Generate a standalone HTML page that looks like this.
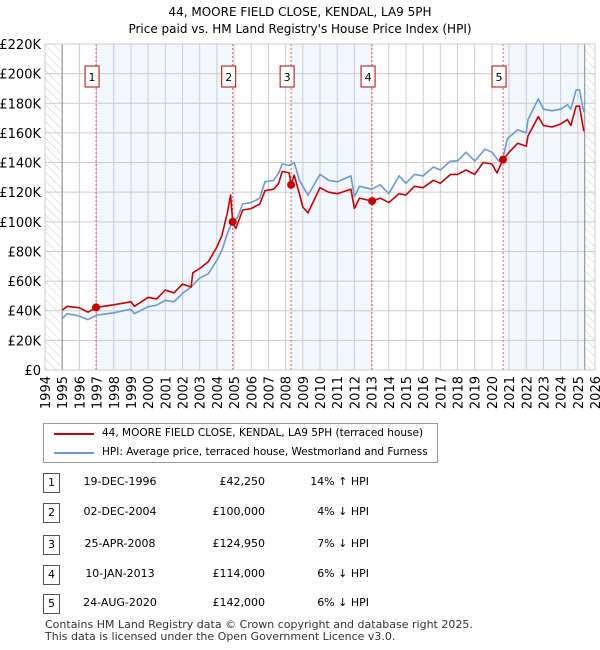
<!DOCTYPE html>
<html><head><meta charset="utf-8">
<style>
body{margin:0;background:#fff;font-family:"Liberation Sans","DejaVu Sans",sans-serif;}
#wrap{position:relative;width:600px;height:650px;overflow:hidden;}
svg text{font-family:"DejaVu Sans","Liberation Sans",sans-serif;}
.t{position:absolute;font-size:12px;color:#000;font-family:"DejaVu Sans",sans-serif;white-space:nowrap;}
</style></head>
<body><div id="wrap">
<svg id="chart" width="600" height="650">
<defs><pattern id="hatch" width="6" height="6" patternUnits="userSpaceOnUse" patternTransform="rotate(-45)"><line x1="0" y1="0" x2="0" y2="6" stroke="#ccc" stroke-width="1"/></pattern></defs>
<text x="300" y="16" text-anchor="middle" font-size="12">44, MOORE FIELD CLOSE, KENDAL, LA9 5PH</text>
<text x="300" y="33" text-anchor="middle" font-size="12">Price paid vs. HM Land Registry's House Price Index (HPI)</text>
<g id="plot"></g>
</svg>
<div style="position:absolute;left:43px;top:423px;width:393px;height:38px;border:1px solid #999;">
<div style="position:absolute;left:10px;top:9px;width:40px;height:2px;background:#cc0000"></div>
<div class="t" style="left:58px;top:3px;font-size:10.5px">44, MOORE FIELD CLOSE, KENDAL, LA9 5PH (terraced house)</div>
<div style="position:absolute;left:10px;top:28px;width:40px;height:2px;background:#6a9ad4"></div>
<div class="t" style="left:58px;top:22px;font-size:10.5px">HPI: Average price, terraced house, Westmorland and Furness</div>
</div>
<div id="table"></div>
<div class="t" style="left:45px;top:619px;font-size:11px;color:#333;line-height:12px">Contains HM Land Registry data © Crown copyright and database right 2025.<br>This data is licensed under the Open Government Licence v3.0.</div>
</div>
<script>
const hpiYears=[1995,1995.3,1996,1996.5,1997,1998,1999,1999.2,2000,2000.5,2001,2001.5,2002,2002.5,2003,2003.5,2004,2004.3,2004.6,2004.9,2005.2,2005.5,2006,2006.5,2006.8,2007.3,2007.6,2007.8,2008.2,2008.5,2008.8,2009,2009.3,2010,2010.5,2011,2011.8,2012,2012.3,2013,2013.5,2014,2014.6,2015,2015.5,2016,2016.6,2017,2017.6,2018,2018.5,2019,2019.6,2020,2020.4,2020.65,2020.9,2021.5,2022,2022.1,2022.7,2023,2023.5,2024,2024.4,2024.6,2024.9,2025.1,2025.35];
const hpiValues=[34.8,38,36.4,34,37,38.6,41,38,42.7,43.8,47,46,51.7,56,62,65,74,81,92,100,103,112,113,116,127,128,133,139,138,140,128,124,118,132,128,127,131,117,124,122,125,119,131,126,132,131,137,135,141,141,147,141,149,147,141,143,156,162,160,169,183,176,175,176,179,176,189,189,174];
const redYears=[1995,1995.3,1996,1996.5,1996.97,1998,1999,1999.2,2000,2000.5,2001,2001.5,2002,2002.5,2002.6,2003,2003.5,2004,2004.3,2004.6,2004.8,2004.92,2005.1,2005.5,2006,2006.5,2006.8,2007.3,2007.6,2007.8,2008.2,2008.32,2008.5,2008.8,2009,2009.3,2010,2010.5,2011,2011.8,2012,2012.3,2013.03,2013.5,2014,2014.6,2015,2015.5,2016,2016.6,2017,2017.6,2018,2018.5,2019,2019.5,2020,2020.3,2020.65,2021,2021.5,2022,2022.1,2022.7,2023,2023.5,2024,2024.4,2024.6,2024.9,2025.1,2025.35];
const redValues=[40.4,43,42,39,42.25,44,46,43,49,48,54,52,58,56,65.6,68.5,73,83,91,105.6,118,100,95.5,108,109,112,121,122,126,134,133,125,131.5,119,110,106,123,120,119,122,109,116,114,116,113,119,118,124,123,128,126,132,132,135,132,140,139,133,142,147,153,151,158,171,165,164,166,169,165,178,178,161];
const saleLabels=["1","2","3","4","5"];
const saleYears=[1996.97,2004.92,2008.32,2013.03,2020.65];
const saleValues=[42.25,100,124.95,114,142];
const saleDates=["19-DEC-1996","02-DEC-2004","25-APR-2008","10-JAN-2013","24-AUG-2020"];
const salePrices=["£42,250","£100,000","£124,950","£114,000","£142,000"];
const saleHpi=["14% ↑ HPI","4% ↓ HPI","7% ↓ HPI","6% ↓ HPI","6% ↓ HPI"];
const yTicks=[0,20,40,60,80,100,120,140,160,180,200,220];
const xTicks=[1994,1995,1996,1997,1998,1999,2000,2001,2002,2003,2004,2005,2006,2007,2008,2009,2010,2011,2012,2013,2014,2015,2016,2017,2018,2019,2020,2021,2022,2023,2024,2025,2026];
const L=45,R=595,T=44,B=370,X0=1994,X1=2026,YMAX=220,dataStart=1995,dataEnd=2025.4;
const sx=v=>L+(v-X0)/(X1-X0)*(R-L), sy=v=>B-v/YMAX*(B-T);
const NS="http://www.w3.org/2000/svg", g=document.getElementById('plot');
function mk(tag,a,parent){const e=document.createElementNS(NS,tag);for(const k in a)e.setAttribute(k,a[k]);(parent||g).appendChild(e);return e;}
let e;
e=mk('rect',{x:L,y:T,width:R-L,height:B-T,fill:'#fff'});


for(let i=0;i<saleYears.length;i+=2){
 const a=saleYears[i], b=i+1<saleYears.length?saleYears[i+1]:dataEnd;
 e=mk('rect',{x:sx(a),y:T,width:sx(b)-sx(a),height:B-T,fill:'#f2f6fd'});
 
 
}
e=mk('rect',{x:L,y:T,width:sx(dataStart)-L,height:B-T,fill:'url(#hatch)'});


e=mk('rect',{x:sx(dataEnd),y:T,width:R-sx(dataEnd),height:B-T,fill:'url(#hatch)'});


yTicks.forEach(v=>{
 e=mk('line',{x1:L,x2:R,y1:sy(v),y2:sy(v),stroke:'#ccc','stroke-width':1});
 
 
 e=mk('text',{x:L-4,y:sy(v)+5,'text-anchor':'end','font-size':13});
 e.textContent=v===0?'£0':'£'+v+'K';
 
 
});
xTicks.forEach(v=>{
 e=mk('line',{x1:sx(v),x2:sx(v),y1:T,y2:B,stroke:'#ccc','stroke-width':1});
 
 
 e=mk('text',{x:0,y:0,'text-anchor':'end','font-size':13,transform:`translate(${sx(v)+5},${B+6}) rotate(-90)`});
 e.textContent=v;
 
 
});
e=mk('line',{x1:sx(dataStart),x2:sx(dataStart),y1:T,y2:B,stroke:'#888'});


e=mk('line',{x1:sx(dataEnd),x2:sx(dataEnd),y1:T,y2:B,stroke:'#888'});


saleYears.forEach((y,i)=>{
 e=mk('line',{x1:sx(y),x2:sx(y),y1:T,y2:B,stroke:'#e06060','stroke-dasharray':'2,2'});
 
 
 e=mk('rect',{x:sx(y)-11,y:66,width:14,height:21,fill:'#fff',stroke:'#b00'});
 
 
 e=mk('text',{x:sx(y)-4,y:81,'text-anchor':'middle','font-size':11});
 e.textContent=saleLabels[i];
 
 
});
function line(xs,vs,color,name){
 const d=xs.map((x,i)=>(i?'L':'M')+sx(x).toFixed(1)+','+sy(vs[i]).toFixed(1)).join('');
 e=mk('path',{d:d,fill:'none',stroke:color,'stroke-width':1.6,'stroke-linejoin':'round'});
 
 
}
line(hpiYears,hpiValues,'#6a9ad4','hpi-line');
line(redYears,redValues,'#cc0000','price-paid-line');
saleYears.forEach((y,i)=>{
 e=mk('circle',{cx:sx(y),cy:sy(saleValues[i]),r:4,fill:'#cc0000'});
 
 
});
e=mk('rect',{x:L,y:T,width:R-L,height:B-T,fill:'none',stroke:'#ccc'});


const tb=document.getElementById('table');
const rowY=[483,513,545,575,604];
saleLabels.forEach((lab,i)=>{
 const top=rowY[i]-9;
 const r=document.createElement('div');
 
 
 r.innerHTML=`<div style="position:absolute;left:43px;top:${top-1}px;width:15px;height:18px;border:1px solid #555;font-size:11px;text-align:center;line-height:18px;font-family:'DejaVu Sans',sans-serif">${lab}</div>
<div class="t" style="left:80px;top:${top+1}px;font-size:11px;width:80px;text-align:center">${saleDates[i]}</div>
<div class="t" style="left:190px;top:${top+1}px;font-size:11px;width:75px;text-align:right">${salePrices[i]}</div>
<div class="t" style="left:280px;top:${top+1}px;font-size:11px;width:89px;text-align:right">${saleHpi[i]}</div>`;
 tb.appendChild(r);
});
</script>
</body></html>
